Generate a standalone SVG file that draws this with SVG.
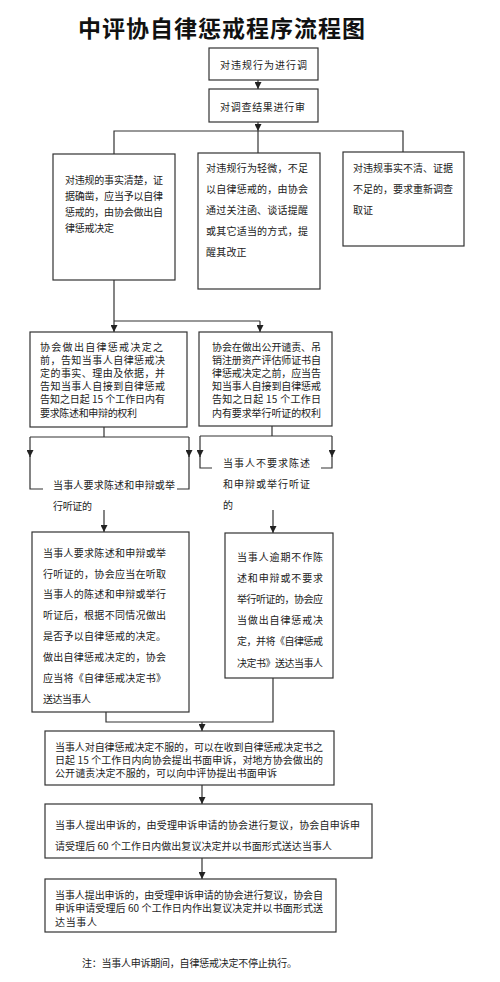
<svg xmlns="http://www.w3.org/2000/svg" width="500" height="982" viewBox="0 0 500 982">
<style>
.box{fill:#fff;stroke:#333;stroke-width:1.2}
.c{fill:none;stroke:#333;stroke-width:1.2}
.t{font-family:"Noto Sans CJK SC","Noto Sans CJK JP",sans-serif;font-size:10px;fill:#222}
.title{font-family:"Noto Sans CJK SC","Noto Sans CJK JP",sans-serif;font-size:23px;font-weight:bold;fill:#111}
</style>
<defs>
<marker id="ah" markerWidth="7" markerHeight="7" refX="7" refY="3.5" orient="auto" markerUnits="userSpaceOnUse"><path d="M0,0 L7,3.5 L0,7 z" fill="#222"/></marker>
</defs>
<rect width="500" height="982" fill="#fff"/>
<text class="title" x="78" y="37" textLength="287" lengthAdjust="spacing">中评协自律惩戒程序流程图</text>

<g id="connectors">
<line class="c" x1="258" y1="80" x2="258" y2="89" marker-end="url(#ah)"/>
<line class="c" x1="258" y1="122" x2="258" y2="131" marker-end="url(#ah)"/>
<polyline class="c" points="114,154 114,131 403,131 403,152"/>
<line class="c" x1="258" y1="131" x2="258" y2="153"/>
<line class="c" x1="114" y1="280" x2="114" y2="332" marker-end="url(#ah)"/>
<polyline class="c" points="114,321 260,321"/>
<line class="c" x1="260" y1="321" x2="260" y2="332" marker-end="url(#ah)"/>
<polyline class="c" points="104,427 104,437"/>
<polyline class="c" points="30,437 189,437"/>
<line class="c" x1="30" y1="437" x2="30" y2="457" marker-end="url(#ah)"/>
<polyline class="c" points="30,456 30,489 43,489"/>
<line class="c" x1="189" y1="437" x2="189" y2="457" marker-end="url(#ah)"/>
<polyline class="c" points="189,456 189,489 177,489"/>
<polyline class="c" points="272,426 272,436"/>
<polyline class="c" points="200,436 332,436"/>
<line class="c" x1="200" y1="436" x2="200" y2="457" marker-end="url(#ah)"/>
<polyline class="c" points="200,456 200,468 212,468"/>
<line class="c" x1="332" y1="436" x2="332" y2="457" marker-end="url(#ah)"/>
<polyline class="c" points="332,456 332,468 321,468"/>
<line class="c" x1="104" y1="510" x2="104" y2="532" marker-end="url(#ah)"/>
<line class="c" x1="273" y1="510" x2="273" y2="533" marker-end="url(#ah)"/>
<polyline class="c" points="106,712 106,722 273,722 273,678"/>
<line class="c" x1="202" y1="722" x2="202" y2="731" marker-end="url(#ah)"/>
<line class="c" x1="202" y1="785" x2="202" y2="804" marker-end="url(#ah)"/>
<line class="c" x1="202" y1="858" x2="202" y2="879" marker-end="url(#ah)"/>
</g>

<g id="n1">
<rect class="box" x="209" y="48" width="109" height="32"/>
<text class="t" x="220" y="68.6" textLength="87" lengthAdjust="spacing">对违规行为进行调</text>
</g>
<g id="n2">
<rect class="box" x="209" y="89" width="109" height="33"/>
<text class="t" x="220" y="110.6" textLength="85" lengthAdjust="spacing">对调查结果进行审</text>
</g>

<g id="n3">
<rect class="box" x="53" y="154" width="122" height="126"/>
<text class="t" x="65" y="183.6" textLength="98" lengthAdjust="spacing">对违规的事实清楚，证</text>
<text class="t" x="65" y="199.6" textLength="98" lengthAdjust="spacing">据确凿，应当予以自律</text>
<text class="t" x="65" y="215.6" textLength="98" lengthAdjust="spacing">惩戒的，由协会做出自</text>
<text class="t" x="65" y="231.6" textLength="49" lengthAdjust="spacing">律惩戒决定</text>
</g>
<g id="n4">
<rect class="box" x="198" y="153" width="122" height="136"/>
<text class="t" x="206" y="171.6" textLength="102" lengthAdjust="spacing">对违规行为轻微，不足</text>
<text class="t" x="206" y="192.6" textLength="102" lengthAdjust="spacing">以自律惩戒的，由协会</text>
<text class="t" x="206" y="213.6" textLength="102" lengthAdjust="spacing">通过关注函、谈话提醒</text>
<text class="t" x="206" y="234.6" textLength="102" lengthAdjust="spacing">或其它适当的方式，提</text>
<text class="t" x="206" y="255.6" textLength="40.6" lengthAdjust="spacing">醒其改正</text>
</g>
<g id="n5">
<rect class="box" x="343" y="152" width="121" height="94"/>
<text class="t" x="353" y="171.6" textLength="100" lengthAdjust="spacing">对违规事实不清、证据</text>
<text class="t" x="353" y="192.6" textLength="100" lengthAdjust="spacing">不足的，要求重新调查</text>
<text class="t" x="353" y="213.6" textLength="20" lengthAdjust="spacing">取证</text>
</g>

<g id="n6">
<rect class="box" x="30" y="332" width="157" height="95"/>
<text class="t" x="40" y="350.6" textLength="123" lengthAdjust="spacing">协会做出自律惩戒决定之</text>
<text class="t" x="40" y="363.8" textLength="125" lengthAdjust="spacing">前，告知当事人自律惩戒决</text>
<text class="t" x="40" y="377" textLength="125" lengthAdjust="spacing">定的事实、理由及依据，并</text>
<text class="t" x="40" y="390.2" textLength="125" lengthAdjust="spacing">告知当事人自接到自律惩戒</text>
<text class="t" x="40" y="403.4" textLength="125" lengthAdjust="spacing">告知之日起 15 个工作日内有</text>
<text class="t" x="40" y="416.6" textLength="97" lengthAdjust="spacing">要求陈述和申辩的权利</text>
</g>
<g id="n7">
<rect class="box" x="199" y="332" width="133" height="94"/>
<text class="t" x="212" y="350.6" textLength="109" lengthAdjust="spacing">协会在做出公开谴责、吊</text>
<text class="t" x="212" y="363.8" textLength="109" lengthAdjust="spacing">销注册资产评估师证书自</text>
<text class="t" x="212" y="377" textLength="109" lengthAdjust="spacing">律惩戒决定之前，应当告</text>
<text class="t" x="212" y="390.2" textLength="109" lengthAdjust="spacing">知当事人自接到自律惩戒</text>
<text class="t" x="212" y="403.4" textLength="109" lengthAdjust="spacing">告知之日起 15 个工作日</text>
<text class="t" x="212" y="416.6" textLength="109" lengthAdjust="spacing">内有要求举行听证的权利</text>
</g>

<g id="label-left">
<text class="t" x="53" y="488.6" textLength="122" lengthAdjust="spacing">当事人要求陈述和申辩或举</text>
<text class="t" x="53" y="509.6" textLength="39" lengthAdjust="spacing">行听证的</text>
</g>
<g id="label-right">
<text class="t" x="223" y="466.6" textLength="87" lengthAdjust="spacing">当事人不要求陈述</text>
<text class="t" x="223" y="487.6" textLength="87" lengthAdjust="spacing">和申辩或举行听证</text>
<text class="t" x="223" y="508.6">的</text>
</g>

<g id="n8">
<rect class="box" x="32" y="532" width="157" height="180"/>
<text class="t" x="43" y="556.6" textLength="123" lengthAdjust="spacing">当事人要求陈述和申辩或举</text>
<text class="t" x="43" y="577.5" textLength="123" lengthAdjust="spacing">行听证的，协会应当在听取</text>
<text class="t" x="43" y="598.4" textLength="123" lengthAdjust="spacing">当事人的陈述和申辩或举行</text>
<text class="t" x="43" y="619.3" textLength="123" lengthAdjust="spacing">听证后，根据不同情况做出</text>
<text class="t" x="43" y="640.2" textLength="123" lengthAdjust="spacing">是否予以自律惩戒的决定。</text>
<text class="t" x="43" y="661.1" textLength="123" lengthAdjust="spacing">做出自律惩戒决定的，协会</text>
<text class="t" x="43" y="682" textLength="123" lengthAdjust="spacing">应当将《自律惩戒决定书》</text>
<text class="t" x="43" y="702.9" textLength="48" lengthAdjust="spacing">送达当事人</text>
</g>
<g id="n9">
<rect class="box" x="225" y="533" width="108" height="145"/>
<text class="t" x="237" y="560.6" textLength="86" lengthAdjust="spacing">当事人逾期不作陈</text>
<text class="t" x="237" y="581.8" textLength="86" lengthAdjust="spacing">述和申辩或不要求</text>
<text class="t" x="237" y="603" textLength="86" lengthAdjust="spacing">举行听证的，协会应</text>
<text class="t" x="237" y="624.2" textLength="86" lengthAdjust="spacing">当做出自律惩戒决</text>
<text class="t" x="237" y="645.4" textLength="86" lengthAdjust="spacing">定，并将《自律惩戒</text>
<text class="t" x="237" y="666.6" textLength="86" lengthAdjust="spacing">决定书》送达当事人</text>
</g>

<g id="n10">
<rect class="box" x="45" y="731" width="289" height="54"/>
<text class="t" x="55" y="751" textLength="268" lengthAdjust="spacing">当事人对自律惩戒决定不服的，可以在收到自律惩戒决定书之</text>
<text class="t" x="55" y="764.2" textLength="268" lengthAdjust="spacing">日起 15 个工作日内向协会提出书面申诉，对地方协会做出的</text>
<text class="t" x="55" y="777.4" textLength="222" lengthAdjust="spacing">公开谴责决定不服的，可以向中评协提出书面申诉</text>
</g>
<g id="n11">
<rect class="box" x="45" y="804" width="327" height="54"/>
<text class="t" x="55" y="828.6" textLength="305" lengthAdjust="spacing">当事人提出申诉的，由受理申诉申请的协会进行复议，协会自申诉申</text>
<text class="t" x="55" y="849.6" textLength="277" lengthAdjust="spacing">请受理后 60 个工作日内做出复议决定并以书面形式送达当事人</text>
</g>
<g id="n12">
<rect class="box" x="45" y="879" width="291" height="53"/>
<text class="t" x="55" y="898.6" textLength="268" lengthAdjust="spacing">当事人提出申诉的，由受理申诉申请的协会进行复议，协会自</text>
<text class="t" x="55" y="912.1" textLength="268" lengthAdjust="spacing">申诉申请受理后 60 个工作日内作出复议决定并以书面形式送</text>
<text class="t" x="55" y="925.6" textLength="42" lengthAdjust="spacing">达当事人</text>
</g>

<g id="note">
<text class="t" x="82" y="966.6" textLength="215" lengthAdjust="spacing">注：当事人申诉期间，自律惩戒决定不停止执行。</text>
</g>
</svg>
